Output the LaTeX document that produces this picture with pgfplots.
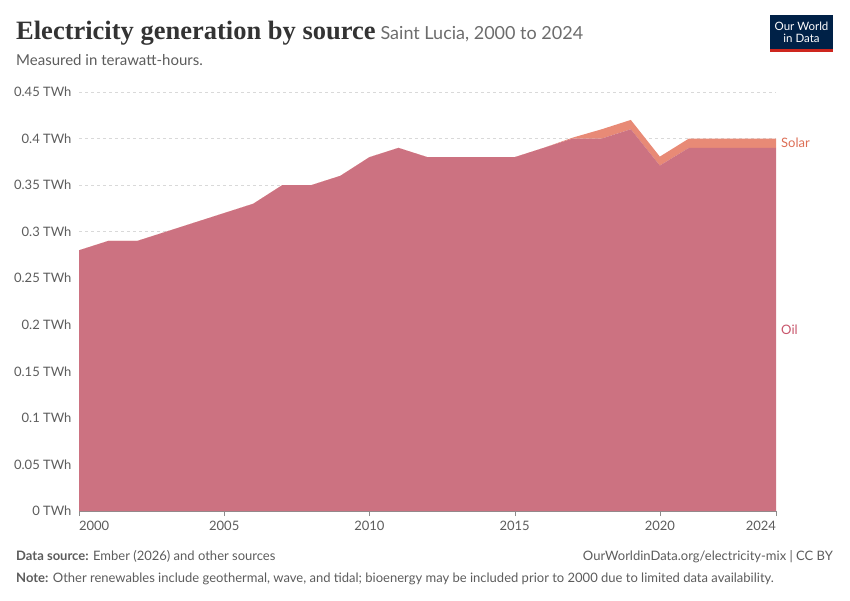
\documentclass[border=0pt]{standalone}
\usepackage{pgfplots}
\pgfplotsset{compat=1.18}
\usepackage{fontspec}
\setmainfont{Lato}
\newfontfamily\titlefont{Liberation Serif}
\definecolor{oil}{RGB}{204,114,129}
\definecolor{solar}{RGB}{232,138,118}
\definecolor{oiltxt}{RGB}{200,86,108}
\definecolor{solartxt}{RGB}{220,110,85}
\definecolor{txtgray}{RGB}{92,92,92}
\definecolor{owidblue}{RGB}{0,33,71}
\definecolor{owidred}{RGB}{206,38,30}
\begin{document}
\begin{tikzpicture}[x=1pt,y=1pt]
\path[use as bounding box] (0,0) rectangle (850,600);
% title
\node[anchor=base west,inner sep=0pt] at (16,600-40) {{\titlefont\bfseries\fontsize{26.5}{30}\selectfont\color{black!80}Electricity generation by source}\hspace{5pt}{\fontsize{18}{21}\selectfont\color{txtgray!90}Saint Lucia, 2000 to 2024}};
\node[anchor=base west,inner sep=0pt] at (16,600-66) {\fontsize{15}{18}\selectfont\color{txtgray}Measured in terawatt-hours.};
% logo
\fill[owidblue] (770,600-15) rectangle (833,600-52);
\fill[owidred] (770,600-49) rectangle (833,600-52);
\node[align=center,text=white,inner sep=0pt,font=\fontsize{11.5}{12}\selectfont] at (801.5,600-32) {Our World\\in Data};
\begin{axis}[
  at={(79pt,89pt)}, anchor=south west,
  scale only axis, width=697pt, height=419pt,
  xmin=2000, xmax=2024, ymin=0, ymax=0.45,
  stack plots=y,
  axis lines=left,
  axis line style={-},
  y axis line style={draw=none},
  x axis line style={draw=black!45},
  xtick={2000,2005,2010,2015,2020,2024},
  xticklabels={\makebox[0pt][l]{2000},2005,2010,2015,2020,\makebox[0pt][r]{2024}},
  x tick label style={font=\fontsize{13}{15}\selectfont, text=txtgray, yshift=-2pt},
  xtick style={draw=black!45},
  tick align=outside,
  major tick length=5pt,
  ytick={0,0.05,0.1,0.15,0.2,0.25,0.3,0.35,0.4,0.45},
  yticklabels={0 TWh,0.05 TWh,0.1 TWh,0.15 TWh,0.2 TWh,0.25 TWh,0.3 TWh,0.35 TWh,0.4 TWh,0.45 TWh},
  y tick label style={font=\fontsize{13}{15}\selectfont, text=txtgray, xshift=1pt},
  ytick style={draw=none},
  ymajorgrids,
  grid style={dashed, draw=black!15},
  clip=false,
]
\addplot[draw=none, fill=oil] coordinates {
(2000,0.28)(2001,0.29)(2002,0.29)(2003,0.30)(2004,0.31)(2005,0.32)(2006,0.33)
(2007,0.35)(2008,0.35)(2009,0.36)(2010,0.38)(2011,0.39)(2012,0.38)(2013,0.38)
(2014,0.38)(2015,0.38)(2016,0.39)(2017,0.40)(2018,0.40)(2019,0.41)(2020,0.371)
(2021,0.39)(2022,0.39)(2023,0.39)(2024,0.39)} \closedcycle;
\addplot[draw=none, fill=solar] coordinates {
(2000,0)(2001,0)(2002,0)(2003,0)(2004,0)(2005,0)(2006,0)
(2007,0)(2008,0)(2009,0)(2010,0)(2011,0)(2012,0)(2013,0)
(2014,0)(2015,0)(2016,0)(2017,0.001)(2018,0.01)(2019,0.01)(2020,0.0096)
(2021,0.01)(2022,0.01)(2023,0.01)(2024,0.01)} \closedcycle;
\node[anchor=west, inner sep=0pt, text=solartxt, font=\fontsize{13}{15}\selectfont] at (axis cs:2024,0.395) {\hspace{5pt}Solar};
\node[anchor=west, inner sep=0pt, text=oiltxt, font=\fontsize{13}{15}\selectfont] at (axis cs:2024,0.195) {\hspace{5pt}Oil};
\end{axis}
% footer
\node[anchor=base west,inner sep=0pt,font=\fontsize{13}{15}\selectfont,text=txtgray] at (16,600-560) {\textbf{Data source:} Ember (2026) and other sources};
\node[anchor=base east,inner sep=0pt,font=\fontsize{13}{15}\selectfont,text=txtgray] at (833,600-560) {OurWorldinData.org/electricity-mix | CC BY};
\node[anchor=base west,inner sep=0pt,font=\fontsize{13}{15}\selectfont,text=txtgray] at (16,600-582) {\textbf{Note:} Other renewables include geothermal, wave, and tidal; bioenergy may be included prior to 2000 due to limited data availability.};
\end{tikzpicture}
\end{document}
